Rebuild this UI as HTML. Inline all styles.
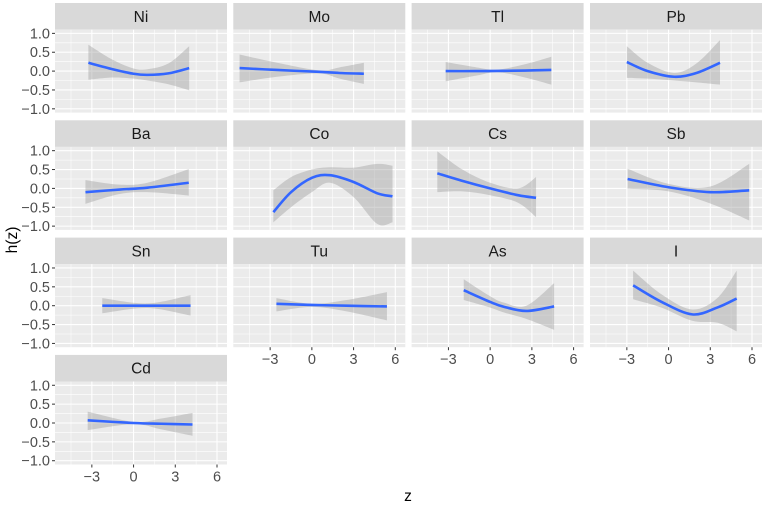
<!DOCTYPE html>
<html><head><meta charset="utf-8"><style>
html,body{margin:0;padding:0;background:#fff;}
svg{display:block;font-family:"Liberation Sans",Arial,sans-serif;}
</style></head><body>
<svg id="chart" width="767" height="506" viewBox="0 0 767 506"></svg>
<script>
const panelNames=["Ni","Mo","Tl","Pb","Ba","Co","Cs","Sb","Sn","Tu","As","I","Cd"];
const zNi=[-3.25,-1.5,0,1,2.5,4.0], fitNi=[0.22,0.05,-0.07,-0.1,-0.06,0.08], hiNi=[0.7,0.3,0.07,0.05,0.2,0.66], loNi=[-0.23,-0.17,-0.2,-0.25,-0.35,-0.51];
const zMo=[-5.2,-2.5,0.5,2,3.74], fitMo=[0.08,0.03,-0.02,-0.05,-0.07], hiMo=[0.44,0.22,0.02,0.1,0.22], loMo=[-0.3,-0.15,-0.06,-0.2,-0.34];
const zTl=[-3.2,-1,0.5,2.5,4.4], fitTl=[0,0,0.005,0.015,0.03], hiTl=[0.24,0.1,0.04,0.18,0.38], loTl=[-0.27,-0.12,-0.03,-0.17,-0.36];
const zPb=[-3,-1.5,0.4,2,3.7], fitPb=[0.24,0.0,-0.15,-0.05,0.22], hiPb=[0.66,0.22,-0.05,0.2,0.82], loPb=[-0.18,-0.2,-0.25,-0.3,-0.36];
const zBa=[-3.46,-1,1,3.97], fitBa=[-0.1,-0.03,0.02,0.15], hiBa=[0.22,0.1,0.15,0.51], loBa=[-0.41,-0.15,-0.1,-0.19];
const zCo=[-2.77,-1.5,0,1.3,3,4.7,5.8], fitCo=[-0.63,-0.1,0.28,0.35,0.17,-0.13,-0.21], hiCo=[-0.05,0.3,0.5,0.56,0.55,0.65,0.6], loCo=[-0.9,-0.5,-0.1,0.15,-0.23,-0.94,-0.9];
const zCs=[-3.8,-2,0,2,3.3], fitCs=[0.4,0.2,0.0,-0.18,-0.25], hiCs=[0.98,0.5,0.15,0.0,0.3], loCs=[-0.1,-0.08,-0.18,-0.38,-0.76];
const zSb=[-2.95,0,3,5.8], fitSb=[0.25,0.03,-0.1,-0.05], hiSb=[0.52,0.12,0.05,0.65], loSb=[-0.01,-0.08,-0.4,-0.85];
const zSn=[-2.25,1,4.1], fitSn=[0,0,0], hiSn=[0.2,0.06,0.28], loSn=[-0.2,-0.06,-0.26];
const zTu=[-2.55,0,2.5,5.4], fitTu=[0.05,0.02,0,-0.02], hiTu=[0.2,0.05,0.15,0.36], loTu=[-0.15,-0.03,-0.15,-0.39];
const zAs=[-1.9,0,1,2.6,4.6], fitAs=[0.41,0.1,-0.03,-0.14,-0.02], hiAs=[0.7,0.25,0.08,0.0,0.6], loAs=[0.15,-0.05,-0.18,-0.35,-0.64];
const zI=[-2.55,-0.5,1.7,3.5,4.9], fitI=[0.54,0.1,-0.23,-0.05,0.19], hiI=[0.93,0.3,-0.1,0.2,0.93], loI=[0.17,-0.05,-0.4,-0.45,-0.68];
const zCd=[-3.3,0,2,4.24], fitCd=[0.07,0,-0.02,-0.04], hiCd=[0.3,0.03,0.12,0.27], loCd=[-0.19,-0.03,-0.17,-0.34];
const xTicks=[-3,0,3,6], xTickLabels=["\u22123","0","3","6"];
const yTicks=[-1,-0.5,0,0.5,1], yTickLabels=["\u22121.0","\u22120.5","0.0","0.5","1.0"];

const series=[[zNi,fitNi,hiNi,loNi],[zMo,fitMo,hiMo,loMo],[zTl,fitTl,hiTl,loTl],[zPb,fitPb,hiPb,loPb],
[zBa,fitBa,hiBa,loBa],[zCo,fitCo,hiCo,loCo],[zCs,fitCs,hiCs,loCs],[zSb,fitSb,hiSb,loSb],
[zSn,fitSn,hiSn,loSn],[zTu,fitTu,hiTu,loTu],[zAs,fitAs,hiAs,loAs],[zI,fitI,hiI,loI],[zCd,fitCd,hiCd,loCd]];

const NS="http://www.w3.org/2000/svg", svg=document.getElementById('chart');
function mk(t,a,p){const e=document.createElementNS(NS,t);for(const k in a)e.setAttribute(k,a[k]);(p||svg).appendChild(e);return e;}
const colX=[55,233.3,411.6,590], PW=172, rowY=[3,120.3,237.6,354.9], SH=26.6, PH=83;
const XMIN=-5.65, XMAX=6.72, YMIN=-1.1, YMAX=1.1;
function catmull(pts){let d="M"+pts[0][0]+","+pts[0][1];for(let i=0;i<pts.length-1;i++){const p0=pts[i-1]||pts[i],p1=pts[i],p2=pts[i+1],p3=pts[i+2]||p2;
d+=" C"+(p1[0]+(p2[0]-p0[0])/6)+","+(p1[1]+(p2[1]-p0[1])/6)+" "+(p2[0]-(p3[0]-p1[0])/6)+","+(p2[1]-(p3[1]-p1[1])/6)+" "+p2[0]+","+p2[1];}return d;}
function catBody(pts){return catmull(pts).replace(/^M[^ C]+/,"");}

panelNames.forEach((name,i)=>{
  const c=i%4,r=Math.floor(i/4);
  const x0=colX[c], sy=rowY[r], py=sy+SH;
  const sx=z=>x0+(z-XMIN)/(XMAX-XMIN)*PW;
  const syv=v=>py+(YMAX-v)/(YMAX-YMIN)*PH;
  const g=mk('g',{});
  
  
  const strip=mk('rect',{x:x0,y:sy,width:PW,height:SH,fill:'#d9d9d9'},g);
  
  
  const st=mk('text',{x:x0+PW/2,y:sy+SH/2+5.5,'text-anchor':'middle','font-size':'15.5',fill:'#1a1a1a'},g);
  st.textContent=name;
  
  
  const bg=mk('rect',{x:x0,y:py,width:PW,height:PH,fill:'#ebebeb'},g);
  
  
  [-0.75,-0.25,0.25,0.75].forEach(v=>mk('line',{x1:x0,x2:x0+PW,y1:syv(v),y2:syv(v),stroke:'#fff','stroke-width':0.55},g));
  [-4.5,-1.5,1.5,4.5].forEach(v=>mk('line',{y1:py,y2:py+PH,x1:sx(v),x2:sx(v),stroke:'#fff','stroke-width':0.55},g));
  yTicks.forEach(v=>mk('line',{x1:x0,x2:x0+PW,y1:syv(v),y2:syv(v),stroke:'#fff','stroke-width':1.1},g));
  xTicks.forEach(v=>mk('line',{y1:py,y2:py+PH,x1:sx(v),x2:sx(v),stroke:'#fff','stroke-width':1.1},g));
  const [zs,fit,hi,lo]=series[i];
  const up=zs.map((z,k)=>[sx(z),syv(hi[k])]), dn=zs.map((z,k)=>[sx(z),syv(lo[k])]).reverse();
  const band=mk('path',{d:catmull(up)+" L"+dn[0][0]+","+dn[0][1]+catBody(dn)+" Z",fill:'#999',opacity:0.4},g);
  
  
  const line=mk('path',{d:catmull(zs.map((z,k)=>[sx(z),syv(fit[k])])),fill:'none',stroke:'#3366ff','stroke-width':2.6},g);
  
  
  if(c===0){
    yTicks.forEach((v,k)=>{
      mk('line',{x1:x0-3,x2:x0,y1:syv(v),y2:syv(v),stroke:'#333','stroke-width':1},g);
      const t=mk('text',{x:x0-5,y:syv(v)+5,'text-anchor':'end','font-size':'14.5',fill:'#4d4d4d'},g);
      t.textContent=yTickLabels[k];
      
      
    });
  }
  if(r===3||(r===2&&c>0)){
    xTicks.forEach((v,k)=>{
      mk('line',{x1:sx(v),x2:sx(v),y1:py+PH,y2:py+PH+3,stroke:'#333','stroke-width':1},g);
      const t=mk('text',{x:sx(v),y:py+PH+17,'text-anchor':'middle','font-size':'14.5',fill:'#4d4d4d'},g);
      t.textContent=xTickLabels[k];
      
      
    });
  }
});
const xt=mk('text',{x:408,y:501,'text-anchor':'middle','font-size':'15.5',fill:'#000'});
xt.textContent='z';


const yt=mk('text',{x:0,y:0,'text-anchor':'middle','font-size':'15.5',fill:'#000',transform:'translate(17,240) rotate(-90)'});
yt.textContent='h(z)';


</script>
</body></html>
